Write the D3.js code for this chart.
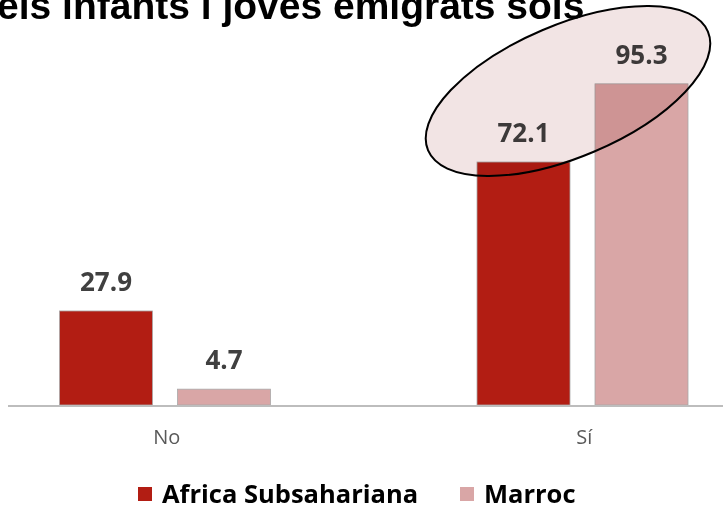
<!DOCTYPE html>
<html>
<head>
<meta charset="utf-8">
<script src="https://cdn.jsdelivr.net/npm/d3@7"></script>
<style>
  html, body { margin: 0; padding: 0; background: #ffffff; }
  svg { display: block; }
</style>
</head>
<body>
<div id="chart"></div>
<script>
// ---- data ----
const categories = ["No", "Sí"];
const seriesNames = ["Africa Subsahariana", "Marroc"];
const africaValues = [27.9, 72.1];
const marrocValues = [4.7, 95.3];
const seriesColors = ["#b21d13", "#d9a6a6"];
const titleText = "els infants i joves emigrats sols";

const W = 723, H = 505;
const svg = d3.select("#chart").append("svg")
  .attr("width", W).attr("height", H);

// ---- scales ----
const x0 = d3.scaleBand().domain(categories).range([-42, 793]).paddingInner(0).paddingOuter(0);
const x1 = d3.scaleBand().domain(seriesNames).range([101.5, 312.5]).paddingInner(0.212).paddingOuter(0);
const y = d3.scaleLinear().domain([0, 100]).range([405, 68]);
const color = d3.scaleOrdinal().domain(seriesNames).range(seriesColors);

const rows = categories.map((c, i) => ({
  category: c,
  values: [
    { series: seriesNames[0], value: africaValues[i] },
    { series: seriesNames[1], value: marrocValues[i] }
  ]
}));

// ---- title ----
svg.append("text")
  .attr("x", -3).attr("y", 19)
  .attr("font-family", "Liberation Sans, Arial, sans-serif")
  .attr("font-weight", "bold")
  .attr("font-size", 39)
  .attr("fill", "#000")
  .text(titleText);

// ---- bars ----
const groups = svg.append("g").selectAll("g").data(rows).join("g")
  .attr("transform", d => `translate(${x0(d.category)},0)`);

groups.selectAll("rect").data(d => d.values).join("rect")
  .attr("x", d => x1(d.series))
  .attr("y", d => y(d.value))
  .attr("width", x1.bandwidth())
  .attr("height", d => y(0) - y(d.value))
  .attr("fill", d => color(d.series))
  .attr("stroke", "#a8a8a8")
  .attr("stroke-width", 0.8);

groups.selectAll("text.val").data(d => d.values).join("text")
  .attr("class", "val")
  .attr("x", d => x1(d.series) + x1.bandwidth() / 2)
  .attr("y", d => y(d.value) - 20)
  .attr("text-anchor", "middle")
  .attr("font-family", "Open Sans, sans-serif")
  .attr("font-weight", "bold")
  .attr("font-size", 26)
  .attr("fill", "#404040")
  .text(d => d.value.toFixed(1));

// ---- x axis ----
const xAxis = d3.axisBottom(x0).tickSize(0).tickPadding(0);
const axisG = svg.append("g").attr("transform", `translate(0,${y(0)})`).call(xAxis);
axisG.select(".domain").remove();
axisG.selectAll("text")
  .attr("dy", 0)
  .attr("y", 39)
  .attr("font-family", "Open Sans, sans-serif")
  .attr("font-size", 20)
  .attr("fill", "#595959");
svg.append("line")
  .attr("x1", 8).attr("x2", W)
  .attr("y1", y(0) + 1).attr("y2", y(0) + 1)
  .attr("stroke", "#bdbdbd").attr("stroke-width", 2);

// ---- highlight ellipse ----
svg.append("ellipse")
  .attr("cx", 0).attr("cy", 0).attr("rx", 152).attr("ry", 66)
  .attr("transform", "translate(568,91) rotate(-23)")
  .attr("fill", "#f2e4e4")
  .style("mix-blend-mode", "multiply")
  .attr("stroke", "#000")
  .attr("stroke-width", 2);

// ---- legend ----
const legendX = [138, 460];
const leg = svg.append("g").selectAll("g").data(seriesNames).join("g")
  .attr("transform", (d, i) => `translate(${legendX[i]},0)`);
leg.append("rect")
  .attr("x", 0).attr("y", 487).attr("width", 14).attr("height", 14)
  .attr("fill", d => color(d));
leg.append("text")
  .attr("x", 24).attr("y", 503)
  .attr("font-family", "Open Sans, sans-serif")
  .attr("font-weight", "bold")
  .attr("font-size", 25.5)
  .attr("fill", "#000")
  .text(d => d);
</script>
</body>
</html>
